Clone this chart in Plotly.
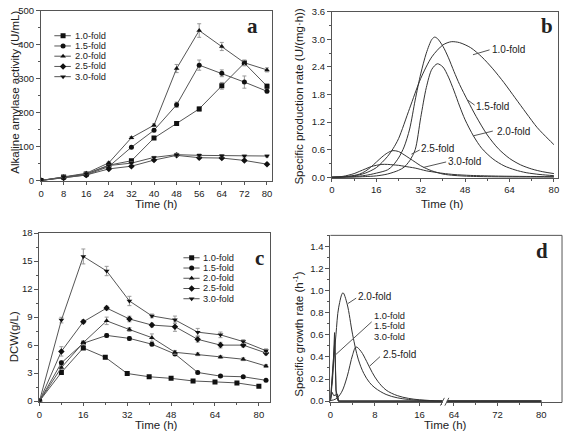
import plotly.graph_objects as go

W, H = 567, 436
FONT_N = "Liberation Sans, Arial, sans-serif"
FONT_R = "Liberation Sans, Arial, sans-serif"
FONT_S = "Liberation Serif, Times New Roman, serif"
LINE_C = "#555555"
TXT_C = "#222222"
DATA_C = "#555555"
MARK_C = "#111111"
ERR_C = "#999999"
CURVE_C = "#333333"

SERIES = ["1.0-fold", "1.5-fold", "2.0-fold", "2.5-fold", "3.0-fold"]
SYMBOLS = ["square", "circle", "triangle-up", "diamond", "triangle-down"]

# ---------------- Panel a: alkaline amylase activity (U/mL)
TIME_A = [0, 8, 16, 24, 32, 40, 48, 56, 64, 72, 80]
AMY_10 = [0, 10, 19, 45, 58, 125, 168, 211, 279, 346, 278]
AMY_15 = [0, 9, 16, 41, 98, 148, 223, 340, 316, 290, 263]
AMY_20 = [0, 11, 21, 52, 126, 163, 330, 442, 395, 347, 326]
AMY_25 = [0, 7, 16, 34, 42, 60, 74, 67, 66, 59, 48]
AMY_30 = [0, 10, 19, 44, 51, 68, 76, 74, 73, 72, 72]
AMY_ERR_10 = [0, 2, 2, 3, 3, 4, 4, 6, 10, 8, 6]
AMY_ERR_15 = [0, 2, 2, 3, 3, 4, 8, 15, 10, 18, 4]
AMY_ERR_20 = [0, 2, 2, 3, 3, 4, 12, 20, 12, 8, 6]
AMY_ERR_25 = [0, 2, 2, 2, 3, 3, 3, 3, 3, 3, 3]
AMY_ERR_30 = [0, 2, 2, 2, 3, 3, 4, 4, 3, 3, 3]

# ---------------- Panel b: specific production rate U/(mg.h)
PR_T_10 = [0, 4, 8, 12, 16, 20, 22, 24, 28, 32, 36, 40, 43, 46, 50, 54, 58, 62, 66, 70, 74, 78, 80]
PR_V_10 = [0, 0.01, 0.03, 0.09, 0.21, 0.45, 0.62, 0.84, 1.5, 2.15, 2.62, 2.88, 2.95, 2.93, 2.82, 2.62, 2.36, 2.06, 1.73, 1.4, 1.08, 0.83, 0.71]
PR_T_15 = [0, 4, 8, 12, 16, 20, 22, 24, 26, 28, 30, 32, 34, 36, 37, 38, 40, 42, 44, 46, 49, 52, 56, 60, 64, 68, 72, 76, 80]
PR_V_15 = [0, 0.005, 0.015, 0.04, 0.09, 0.16, 0.26, 0.42, 0.66, 1.05, 1.68, 2.25, 2.7, 3.0, 3.05, 3.02, 2.85, 2.6, 2.3, 2.02, 1.66, 1.32, 0.92, 0.62, 0.41, 0.27, 0.18, 0.12, 0.08]
PR_T_20 = [0, 8, 12, 16, 20, 24, 26, 28, 30, 32, 34, 36, 38, 40, 42, 44, 46, 48, 51, 54, 58, 62, 66, 70, 75, 80]
PR_V_20 = [0, 0.005, 0.015, 0.03, 0.07, 0.15, 0.22, 0.36, 0.6, 1.3, 1.95, 2.35, 2.47, 2.4, 2.18, 1.88, 1.55, 1.25, 0.9, 0.63, 0.4, 0.25, 0.16, 0.1, 0.06, 0.035]
PR_T_25 = [0, 4, 8, 10, 12, 14, 16, 18, 20, 22, 24, 26, 28, 30, 32, 34, 36, 40, 44, 50, 60, 80]
PR_V_25 = [0, 0.01, 0.04, 0.07, 0.13, 0.22, 0.33, 0.44, 0.53, 0.58, 0.56, 0.49, 0.41, 0.33, 0.25, 0.19, 0.14, 0.07, 0.04, 0.02, 0.01, 0.005]
PR_T_30 = [0, 4, 8, 10, 12, 14, 16, 18, 20, 22, 24, 26, 28, 30, 32, 34, 36, 40, 44, 50, 60, 70, 80]
PR_V_30 = [0, 0.02, 0.08, 0.13, 0.18, 0.23, 0.26, 0.28, 0.28, 0.27, 0.26, 0.24, 0.22, 0.2, 0.17, 0.14, 0.12, 0.085, 0.06, 0.04, 0.025, 0.018, 0.013]

# ---------------- Panel c: DCW (g/L)
TIME_C_10 = [0, 8, 16, 24, 32, 40, 48, 56, 64, 72, 80]
TIME_C = [0, 8, 16, 24.5, 32.8, 41, 49.4, 57.7, 66, 74.3, 82.6]
DCW_10 = [0, 3.07, 5.7, 4.7, 2.96, 2.61, 2.44, 2.16, 2.06, 1.95, 1.6]
DCW_15 = [0, 4.1, 6.2, 7.04, 6.72, 6.1, 5.05, 3.07, 2.68, 2.61, 2.23]
DCW_20 = [0, 3.59, 6.27, 8.6, 7.67, 6.8, 5.23, 5.02, 4.74, 4.49, 3.76]
DCW_25 = [0, 5.33, 8.5, 9.97, 8.8, 8.15, 7.98, 6.62, 6.0, 6.0, 5.16]
DCW_30 = [0, 8.68, 15.5, 13.94, 10.73, 9.13, 8.71, 7.39, 7.1, 6.38, 5.4]
DCW_ERR_10 = [0, 0.15, 0.15, 0.15, 0.1, 0.1, 0.1, 0.1, 0.1, 0.1, 0.1]
DCW_ERR_15 = [0, 0.2, 0.2, 0.2, 0.2, 0.15, 0.15, 0.15, 0.15, 0.1, 0.1]
DCW_ERR_20 = [0, 0.2, 0.2, 0.4, 0.2, 0.4, 0.2, 0.15, 0.15, 0.15, 0.15]
DCW_ERR_25 = [0, 0.5, 0.2, 0.2, 0.3, 0.2, 0.5, 0.3, 0.3, 0.2, 0.2]
DCW_ERR_30 = [0, 0.3, 0.8, 0.5, 0.5, 0.2, 0.4, 0.4, 0.3, 0.2, 0.2]

# ---------------- Panel d: specific growth rate (1/h)
GR_T_10 = [0, 0.4, 0.75, 1.05, 1.4, 20, 60, 80]
GR_V_10 = [0, 0.2, 0.62, 0.05, 0, 0, 0, 0]
GR_T_15 = [0, 0.5, 0.8, 1.0, 1.5, 20, 60, 80]
GR_V_15 = [0, 0.3, 0.55, 0.1, 0, 0, 0, 0]
GR_T_20 = [0, 0.5, 1.0, 1.5, 2.25, 3, 4, 5, 6, 7, 8, 10, 12, 14, 16, 20, 60, 80]
GR_V_20 = [0.02, 0.3, 0.6, 0.85, 0.98, 0.88, 0.6, 0.38, 0.25, 0.17, 0.12, 0.06, 0.03, 0.015, 0.008, 0, 0, 0]
GR_T_25 = [0, 1, 2, 3, 4, 4.6, 5.5, 6.5, 7.5, 8.5, 10, 12, 14, 16, 18, 20, 60, 80]
GR_V_25 = [0.005, 0.02, 0.08, 0.22, 0.42, 0.49, 0.45, 0.36, 0.26, 0.18, 0.1, 0.05, 0.025, 0.012, 0.005, 0, 0, 0]
GR_T_30 = [0, 0.3, 0.6, 1.3, 1.45, 20, 60, 80]
GR_V_30 = [0, 0.08, 0.05, 0.06, 0, 0, 0, 0]

# ---------------- layout geometry (pixels)
A_BOX = (38.3, 5, 270.7, 180)
B_BOX = (331.3, 6, 559, 176.5)
C_BOX = (36.7, 233, 269.3, 406.5)
D_BOX = (329.7, 235.3, 563, 406.7)
D_BREAK = 447


def xdom(x0, x1):
    return [x0 / W, x1 / W]


def ydom(top, bottom):
    return [1 - bottom / H, 1 - top / H]


def P(x, y):
    return x / W, 1 - y / H


def ax(**kw):
    d = dict(showline=True, linecolor=LINE_C, linewidth=1, mirror=True,
             ticks="outside", ticklen=4, tickwidth=1, tickcolor=LINE_C,
             showgrid=False, zeroline=False,
             tickfont=dict(family=FONT_N, size=9.5, color=TXT_C))
    d.update(kw)
    return d


def xax(**kw):
    return ax(ticklen=3, **kw)


def minor(dt):
    return dict(dtick=dt, ticks="outside", ticklen=2, tickcolor=LINE_C, showgrid=False)


fig = go.Figure()

amy = [AMY_10, AMY_15, AMY_20, AMY_25, AMY_30]
amy_err = [AMY_ERR_10, AMY_ERR_15, AMY_ERR_20, AMY_ERR_25, AMY_ERR_30]
for name, sym, vals, err in zip(SERIES, SYMBOLS, amy, amy_err):
    fig.add_trace(go.Scatter(
        x=TIME_A, y=vals, name=name, mode="lines+markers", xaxis="x", yaxis="y",
        line=dict(color=DATA_C, width=1),
        marker=dict(symbol=sym, size=5, color=MARK_C),
        error_y=dict(type="data", array=err, color=ERR_C, thickness=1, width=2),
        showlegend=False))

prod = [(PR_T_10, PR_V_10), (PR_T_15, PR_V_15), (PR_T_20, PR_V_20),
        (PR_T_25, PR_V_25), (PR_T_30, PR_V_30)]
for name, (t, v) in zip(SERIES, prod):
    fig.add_trace(go.Scatter(
        x=t, y=v, name=name, mode="lines", xaxis="x2", yaxis="y2",
        line=dict(color=CURVE_C, width=1, shape="spline", smoothing=0.8),
        showlegend=False))

dcw_t = [TIME_C_10, TIME_C, TIME_C, TIME_C, TIME_C]
dcw = [DCW_10, DCW_15, DCW_20, DCW_25, DCW_30]
dcw_err = [DCW_ERR_10, DCW_ERR_15, DCW_ERR_20, DCW_ERR_25, DCW_ERR_30]
for name, sym, t, vals, err in zip(SERIES, SYMBOLS, dcw_t, dcw, dcw_err):
    fig.add_trace(go.Scatter(
        x=t, y=vals, name=name, mode="lines+markers", xaxis="x3", yaxis="y3",
        line=dict(color=DATA_C, width=1),
        marker=dict(symbol=sym, size=5, color=MARK_C),
        error_y=dict(type="data", array=err, color=ERR_C, thickness=1, width=2),
        showlegend=False))

growth = [(GR_T_10, GR_V_10, "linear"), (GR_T_15, GR_V_15, "linear"),
          (GR_T_20, GR_V_20, "spline"), (GR_T_25, GR_V_25, "spline"),
          (GR_T_30, GR_V_30, "linear")]
for name, (t, v, shp) in zip(SERIES, growth):
    for xa, ya in (("x4", "y4"), ("x5", "y5")):
        fig.add_trace(go.Scatter(
            x=t, y=v, name=name, mode="lines", xaxis=xa, yaxis=ya,
            line=dict(color=CURVE_C, width=1, shape=shp),
            showlegend=False))

# manual legends (pixel overlay axes)
LEG_A = dict(rows=[30.5, 41, 51.5, 62, 72.5], x0=51.7, x1=68.3, xm=60.5, xt=72)
LEG_C = dict(rows=[258.3, 268.8, 279.3, 289.8, 300.3], x0=181.7, x1=198, xm=190, xt=200)
annotations = []
for leg in (LEG_A, LEG_C):
    for name, sym, ry in zip(SERIES, SYMBOLS, leg["rows"]):
        fig.add_trace(go.Scatter(x=[leg["x0"], leg["x1"]], y=[ry, ry], mode="lines",
                                 xaxis="x6", yaxis="y6", line=dict(color=DATA_C, width=1),
                                 showlegend=False, hoverinfo="skip"))
        fig.add_trace(go.Scatter(x=[leg["xm"]], y=[ry], mode="markers",
                                 xaxis="x6", yaxis="y6",
                                 marker=dict(symbol=sym, size=5, color=MARK_C),
                                 showlegend=False, hoverinfo="skip"))
        x, y = P(leg["xt"], ry)
        annotations.append(dict(x=x, y=y, xref="paper", yref="paper", text=name,
                                showarrow=False, xanchor="left", yanchor="middle",
                                borderpad=0,
                                font=dict(family=FONT_N, size=9.3, color=TXT_C)))


def label(text, x, y, size=10, family=FONT_N, anchor="left", angle=0, bold=False):
    px_, py_ = P(x, y)
    annotations.append(dict(x=px_, y=py_, xref="paper", yref="paper",
                            text=f"<b>{text}</b>" if bold else text,
                            showarrow=False, xanchor=anchor, yanchor="middle",
                            textangle=angle, borderpad=0,
                            font=dict(family=family, size=size, color=TXT_C)))


# axis titles
label("Time (h)", 155, 203, size=11.5, anchor="center")
label("Alkaline amylase activity (U/mL)", 12, 88, size=11.5, family=FONT_R, anchor="center", angle=-90)
label("Time (h)", 443, 203, size=11.5, anchor="center")
label("Specific production rate (U/(mg·h))", 298, 92, size=11.5, family=FONT_R, anchor="center", angle=-90)
label("Time (h)", 155, 429.5, size=11.5, anchor="center")
label("DCW(g/L)", 12, 339, size=11.5, family=FONT_R, anchor="center", angle=-90)
label("Time (h)", 445.7, 429.5, size=11.5, anchor="center")
label("Specific growth rate (h<sup>-1</sup>)", 296.3, 336, size=11.5, family=FONT_R, anchor="center", angle=-90)

# panel letters
label("a", 251, 21, size=21, family=FONT_S, anchor="center", bold=True)
label("b", 548, 21, size=21, family=FONT_S, anchor="center", bold=True)
label("c", 258.5, 259, size=21, family=FONT_S, anchor="center", bold=True)
label("d", 543, 251, size=21, family=FONT_S, anchor="center", bold=True)

# panel b curve labels
label("1.0-fold", 491.7, 45)
label("1.5-fold", 475.5, 103.3)
label("2.0-fold", 496.7, 128.3)
label("2.5-fold", 419.7, 146)
label("3.0-fold", 446.7, 159.3)
# panel d curve labels
label("2.0-fold", 356.3, 298)
label("1.0-fold", 372.3, 318.2, size=9.3)
label("1.5-fold", 372.3, 328.7, size=9.3)
label("3.0-fold", 372.3, 339.2, size=9.3)
label("2.5-fold", 381.3, 358)

shapes = []


def seg(x0, y0, x1, y1, color=LINE_C, width=1):
    a0, b0 = P(x0, y0)
    a1, b1 = P(x1, y1)
    shapes.append(dict(type="line", xref="paper", yref="paper", x0=a0, y0=b0, x1=a1, y1=b1,
                       line=dict(color=color, width=width)))


# pointers panel b
seg(473.3, 50, 490, 45)
seg(468.3, 96.7, 475, 101.7)
seg(473.3, 133.3, 493.3, 128.3)
seg(411.3, 152, 419.7, 147.7)
seg(423, 165.7, 446.3, 160)
# pointers panel d
seg(347.3, 305.3, 355.7, 299.7)
seg(334.7, 358, 371.3, 324)
seg(369, 369.7, 379.7, 359.7)

# panel d frame (top + right) and axis break
seg(D_BOX[0], D_BOX[1], D_BOX[2], D_BOX[1])
seg(D_BOX[2], D_BOX[1], D_BOX[2], D_BOX[3])
gx0, gy0 = P(443, 404)
gx1, gy1 = P(447, 409)
shapes.append(dict(type="rect", xref="paper", yref="paper", x0=gx0, y0=gy1, x1=gx1, y1=gy0,
                   fillcolor="white", line=dict(width=0)))
seg(440.5, 410, 444.5, 402)
seg(445, 410, 449, 402)

layout = dict(
    width=W, height=H, margin=dict(l=0, r=0, t=0, b=0),
    paper_bgcolor="white", plot_bgcolor="rgba(0,0,0,0)", showlegend=False,
    xaxis=xax(domain=xdom(A_BOX[0], A_BOX[2]), range=[0, 81.7], tickvals=TIME_A, anchor="y"),
    yaxis=ax(domain=ydom(A_BOX[1], A_BOX[3]), range=[-3, 500], dtick=100, minor=minor(50), anchor="x"),
    xaxis2=xax(domain=xdom(B_BOX[0], B_BOX[2]), range=[0, 81.5], dtick=16, minor=minor(8), anchor="y2"),
    yaxis2=ax(domain=ydom(B_BOX[1], B_BOX[3]), range=[-0.017, 3.6], dtick=0.6, tickformat=".1f",
              minor=minor(0.3), anchor="x2"),
    xaxis3=xax(domain=xdom(C_BOX[0], C_BOX[2]), range=[0, 84.2], dtick=16, minor=minor(8), anchor="y3"),
    yaxis3=ax(domain=ydom(C_BOX[1], C_BOX[3]), range=[-0.12, 18], dtick=3, minor=minor(1.5), anchor="x3"),
    xaxis4=xax(domain=xdom(D_BOX[0], D_BREAK), range=[0, 20.9], tickvals=[0, 8, 16], mirror=False,
               minor=dict(tickvals=[4, 12, 20], ticks="outside", ticklen=2, tickcolor=LINE_C), anchor="y4"),
    yaxis4=ax(domain=ydom(D_BOX[1], D_BOX[3]), range=[-0.012, 1.5], dtick=0.2, tickformat=".1f",
              mirror=False, minor=minor(0.1), anchor="x4"),
    xaxis5=xax(domain=xdom(D_BREAK, D_BOX[2]), range=[62.7, 83.8], tickvals=[64, 72, 80], mirror=False,
               minor=dict(tickvals=[68, 76], ticks="outside", ticklen=2, tickcolor=LINE_C), anchor="y5"),
    yaxis5=dict(domain=ydom(D_BOX[1], D_BOX[3]), range=[-0.012, 1.5], visible=False, anchor="x5"),
    xaxis6=dict(domain=[0, 1], range=[0, W], visible=False, anchor="y6", fixedrange=True),
    yaxis6=dict(domain=[0, 1], range=[H, 0], visible=False, anchor="x6", fixedrange=True),
    annotations=annotations, shapes=shapes,
)
fig.update_layout(**layout)
fig.write_html("out.html", config={"displayModeBar": False},
               post_script="document.body.style.margin='0';document.body.style.overflow='hidden';")
